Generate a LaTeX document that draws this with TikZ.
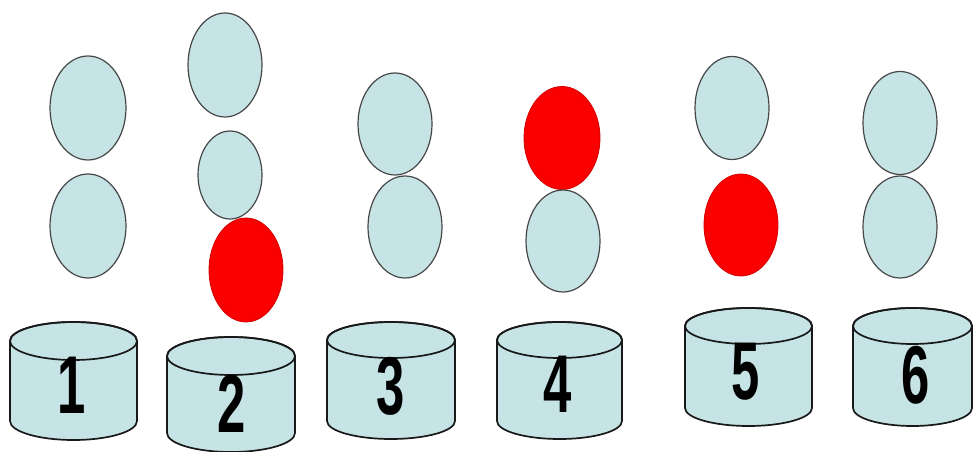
\documentclass[tikz,border=0pt]{standalone}
\usepackage{fontspec}
\setmainfont{Liberation Sans}
\usetikzlibrary{shapes.geometric}
\definecolor{pale}{RGB}{198,228,229}
\definecolor{ink}{RGB}{25,25,25}
\definecolor{hot}{RGB}{250,0,0}
\tikzset{
  ball/.style={ellipse, draw=ink!80, line width=1.2pt, fill=pale, inner sep=0pt},
  redball/.style={ellipse, draw=hot!85!black, line width=0.8pt, fill=hot, inner sep=0pt},
  drumline/.style={draw=ink, line width=1.7pt, fill=pale},
  digit/.style={font=\fontsize{82}{82}\selectfont\bfseries, xscale=0.62, inner sep=0pt, text=black}
}
\newcommand\drum[5]{% x1 x2 ytop ybot ry
  \filldraw[drumline] ({#1},{452-#3}) -- ({#1},{452-#4})
     arc[start angle=180,end angle=360,x radius={(#2-#1)/2},y radius=#5]
     -- ({#2},{452-#3})
     arc[start angle=0,end angle=180,x radius={(#2-#1)/2},y radius=#5] -- cycle;
  \draw[drumline,fill=none] ({(#1+#2)/2},{452-#3}) ellipse[x radius={(#2-#1)/2},y radius=#5];
}
\begin{document}
\begin{tikzpicture}[x=1pt,y=1pt]
\useasboundingbox (0,0) rectangle (974,452);
\fill[white] (0,0) rectangle (974,452);
% drums
\drum{10}{137}{341}{421}{19}
\drum{167}{295}{356}{433}{19}
\drum{327}{455}{340}{421}{18}
\drum{497}{622}{340}{421}{18}
\drum{685}{812}{326}{408}{18}
\drum{853}{972}{326}{408}{18}
\node[digit] (d1) at (72,{452-385}) {1};
\node[digit] (d2) at (232,{452-404}) {2};
\node[digit] (d3) at (391,{452-386}) {3};
\node[digit] (d4) at (558,{452-384}) {4};
\node[digit] (d5) at (746,{452-372}) {5};
\node[digit] (d6) at (916,{452-375}) {6};
% column 1
\node[ball, minimum width=76pt, minimum height=104pt] (a1) at (88,{452-108}) {};
\node[ball, minimum width=76pt, minimum height=104pt] (a2) at (88,{452-226}) {};
% column 2
\node[ball, minimum width=74pt, minimum height=104pt] (b1) at (225,{452-65}) {};
\node[ball, minimum width=64pt, minimum height=88pt] (b2) at (230,{452-175}) {};
\node[redball, minimum width=74pt, minimum height=104pt] (b3) at (246,{452-270}) {};
% column 3
\node[ball, minimum width=74pt, minimum height=102pt] (c1) at (395,{452-124}) {};
\node[ball, minimum width=74pt, minimum height=102pt] (c2) at (405,{452-227}) {};
% column 4
\node[redball, minimum width=76pt, minimum height=103pt] (e1) at (562,{452-138}) {};
\node[ball, minimum width=74pt, minimum height=102pt] (e2) at (563,{452-241}) {};
% column 5
\node[ball, minimum width=74pt, minimum height=103pt] (f1) at (732,{452-108}) {};
\node[redball, minimum width=74pt, minimum height=102pt] (f2) at (741,{452-225}) {};
% column 6
\node[ball, minimum width=74pt, minimum height=103pt] (g1) at (900,{452-123}) {};
\node[ball, minimum width=74pt, minimum height=102pt] (g2) at (900,{452-227}) {};
\end{tikzpicture}
\end{document}
